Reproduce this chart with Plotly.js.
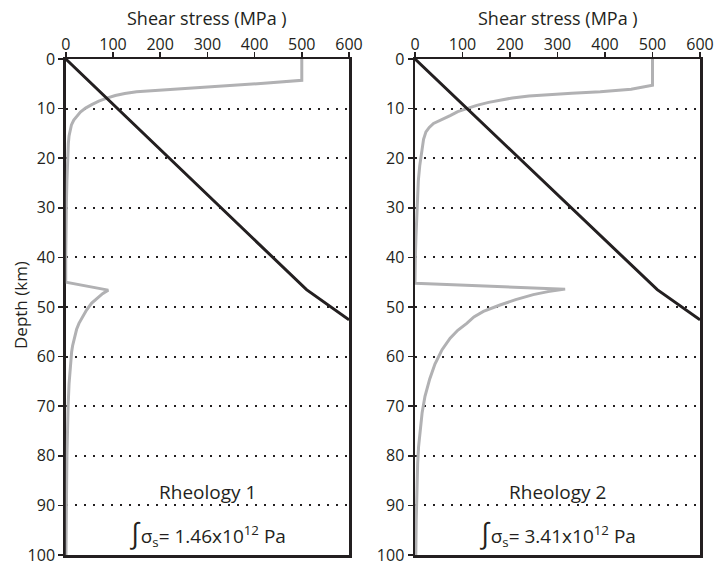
<!DOCTYPE html>
<html>
<head>
<meta charset="utf-8">
<script src="https://cdn.plot.ly/plotly-3.0.1.min.js"></script>
<style>html,body{margin:0;padding:0;background:#fff;}#chart{width:717px;height:565px;}</style>
</head>
<body>
<div id="chart"></div>
<script>
// Linear reference line (both panels)
const refStress = [0, 510, 600];
const refDepth  = [0, 46.5, 52.6];

// Rheology 1 shear stress profile
const r1Stress = [500, 500, 420, 330, 240, 180, 150, 125, 105, 87, 70, 55, 42, 31, 23, 17, 12, 9, 7, 5.5, 4.3, 3.3, 2.5, 1.6, 1, 0.5, 0, 0,
                  90, 78, 66, 55, 44, 35, 28, 23, 18, 14.5, 12.5, 9, 7, 5, 3.5, 2.5, 1.8, 1, 0.5];
const r1Depth  = [0, 4.3, 4.9, 5.5, 6.0, 6.35, 6.6, 6.95, 7.35, 7.9, 8.5, 9.2, 9.9, 10.7, 11.5, 12.3, 13.3, 14.3, 15.5, 17, 19, 21.5, 24.5, 28, 31, 35, 40, 45,
                  46.6, 47.3, 48.2, 49.2, 50.6, 52, 53.3, 54.5, 56.2, 57.8, 59, 62.4, 65.5, 70, 75, 80, 86, 93, 100];

// Rheology 2 shear stress profile
const r2Stress = [500, 500, 455, 390, 330, 280, 240, 205, 179, 155, 130, 109, 90, 74, 58, 39, 30, 23, 18, 14, 10, 7, 5, 3.5, 2, 1, 0, 0,
                  316, 280, 249, 212, 179, 144, 124, 109, 90, 74, 57, 42, 31, 21, 15, 10.5, 7.5, 5.6, 4.4, 3.5, 2.6, 2, 1.7];
const r2Depth  = [0, 5.3, 6.1, 6.6, 6.9, 7.15, 7.45, 7.85, 8.3, 8.75, 9.35, 10, 10.6, 11.4, 12.1, 13, 13.8, 14.7, 16.2, 18.5, 21.5, 24.5, 28, 32, 36, 39, 42, 45.2,
                  46.4, 46.9, 47.5, 48.5, 49.6, 50.9, 52, 53.3, 54.7, 56.3, 58.6, 61.5, 64.5, 68, 71.3, 74.8, 78.2, 81.5, 84.8, 88, 93, 97.5, 100];

const xTicks = [0, 100, 200, 300, 400, 500, 600];
const yTicks = [0, 10, 20, 30, 40, 50, 60, 70, 80, 90, 100];
const panelLabels = ['Rheology 1', 'Rheology 2'];
const integralVals = ['1.46', '3.41'];
const xTitle = 'Shear stress (MPa )';
const yTitle = 'Depth (km)';

const BLACK = '#231f20';
const GRAY = '#b1b1b3';
const FONT = 'Open Sans';

const traces = [
  {x: r1Stress, y: r1Depth, xaxis: 'x', yaxis: 'y', mode: 'lines', line: {color: GRAY, width: 3}},
  {x: refStress, y: refDepth, xaxis: 'x', yaxis: 'y', mode: 'lines', line: {color: BLACK, width: 3}},
  {x: r2Stress, y: r2Depth, xaxis: 'x2', yaxis: 'y2', mode: 'lines', line: {color: GRAY, width: 3}},
  {x: refStress, y: refDepth, xaxis: 'x2', yaxis: 'y2', mode: 'lines', line: {color: BLACK, width: 3}}
];

const yTop = 1 - 59 / 565, yBot = 1 - 555 / 565;
const dom1 = [65.75 / 717, 349 / 717];
const dom2 = [415 / 717, 700 / 717];

function xa(dom, anchor) {
  return {
    domain: dom, anchor: anchor, side: 'top', range: [0, 600], tickvals: xTicks,
    showline: true, mirror: true, linecolor: BLACK, linewidth: 2.5,
    ticks: 'outside', ticklen: 5, tickwidth: 1.5, tickcolor: BLACK,
    showgrid: false, zeroline: false, layer: 'below traces',
    ticklabelstandoff: -5, ticklabeloverflow: 'allow',
    tickfont: {family: FONT, size: 16, color: BLACK}
  };
}
function ya(anchor) {
  return {
    domain: [yBot, yTop], anchor: anchor, range: [100, 0], tickvals: yTicks,
    showline: true, mirror: true, linecolor: BLACK, linewidth: 2.5,
    ticks: 'outside', ticklen: 5, tickwidth: 1.5, tickcolor: BLACK,
    showgrid: true, gridcolor: BLACK, gridwidth: 2, griddash: '2px,7px',
    zeroline: false, layer: 'below traces', ticklabeloverflow: 'allow',
    tickfont: {family: FONT, size: 16, color: BLACK}
  };
}

const annotations = [];
[dom1, dom2].forEach((d, i) => {
  const cx = (d[0] + d[1]) / 2;
  annotations.push({xref: 'paper', yref: 'paper', x: cx, y: 1 - 18 / 565, text: xTitle,
    showarrow: false, xanchor: 'center', yanchor: 'middle', font: {family: FONT, size: 18, color: BLACK}});
  annotations.push({xref: 'paper', yref: 'paper', x: cx, y: 1 - 492 / 565, text: panelLabels[i],
    showarrow: false, xanchor: 'center', yanchor: 'middle', font: {family: FONT, size: 19, color: BLACK}});
  annotations.push({xref: 'paper', yref: 'paper', x: cx, y: 1 - 532 / 565,
    text: '<span style="font-size:28px">∫</span>σ<sub>s</sub>= ' + integralVals[i] + 'x10<sup>12</sup> Pa',
    showarrow: false, xanchor: 'center', yanchor: 'middle', font: {family: FONT, size: 19, color: BLACK}});
});
annotations.push({xref: 'paper', yref: 'paper', x: 20 / 717, y: 1 - 305 / 565, text: yTitle, textangle: -90,
  showarrow: false, xanchor: 'center', yanchor: 'middle', font: {family: FONT, size: 17, color: BLACK}});

const layout = {
  width: 717, height: 565, margin: {l: 0, r: 0, t: 0, b: 0},
  paper_bgcolor: '#fff', plot_bgcolor: '#fff', showlegend: false,
  xaxis: xa(dom1, 'y'), yaxis: ya('x'),
  xaxis2: xa(dom2, 'y2'), yaxis2: ya('x2'),
  annotations: annotations
};

Plotly.newPlot('chart', traces, layout, {staticPlot: true});
</script>
</body>
</html>
